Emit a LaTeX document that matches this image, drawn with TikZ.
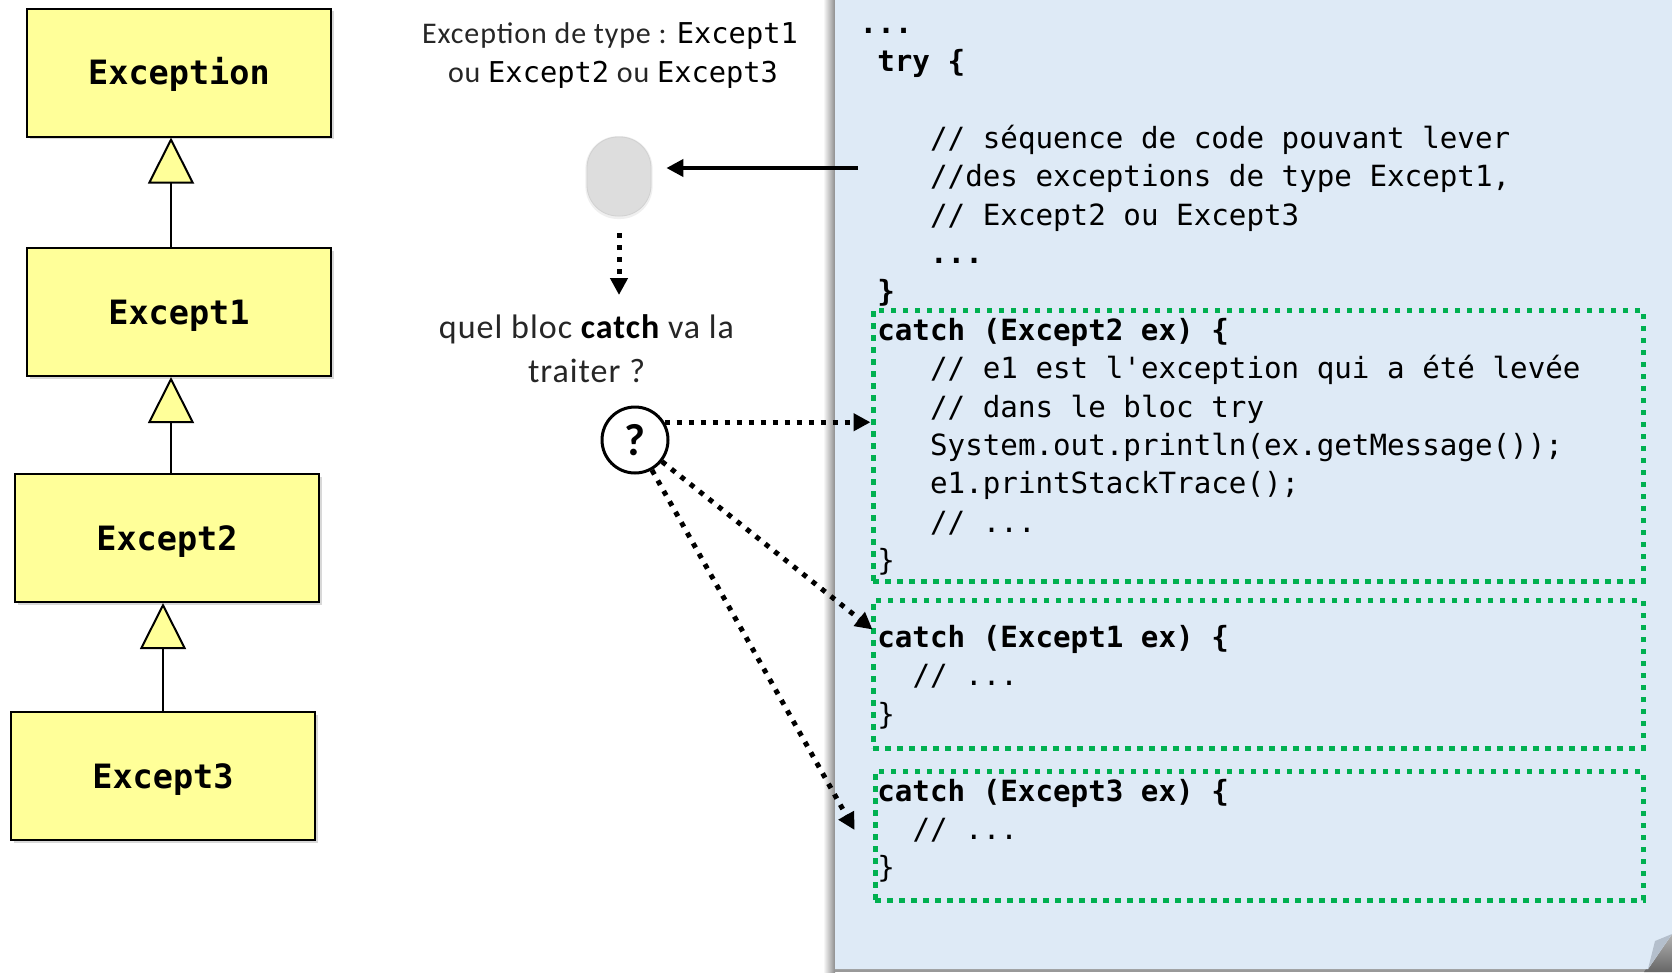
\documentclass[tikz,border=0pt]{standalone}
\usepackage{fontspec}
\setmainfont{Carlito}
\newfontfamily\codefont{DejaVu Sans Mono}
\usetikzlibrary{arrows.meta,shadows,calc}

\definecolor{boxyellow}{HTML}{FFFF99}
\definecolor{panelblue}{HTML}{DEEAF6}
\definecolor{catchgreen}{HTML}{00B050}
\definecolor{flapgrey}{HTML}{B4BFCC}
\definecolor{ovalgrey}{HTML}{DDDDDD}
\definecolor{textdark}{HTML}{262626}

\newcommand\codesize{\fontsize{29.2pt}{38.4pt}\selectfont}
\newcommand\titlemono{\color{black}\codefont\fontsize{28.7pt}{34pt}\selectfont}

\tikzset{
  classbox/.style={draw=black, line width=2pt, fill=boxyellow,
    minimum width=304pt, minimum height=128pt, inner sep=0pt,
    text height=24.5pt, text depth=0pt,
    font=\codefont\bfseries\fontsize{33.5pt}{40pt}\selectfont,
    drop shadow={shadow xshift=2.5pt, shadow yshift=-2.5pt, opacity=0.3}},
  inherit/.style={line width=2pt, -{Triangle[length=46pt,width=46pt,fill=boxyellow]}},
  codeline/.style={anchor=base west, inner sep=0pt, font=\codefont\codesize},
  codebold/.style={codeline, font=\codefont\codesize\bfseries},
  catchbox/.style={draw=catchgreen, line width=5pt, dash pattern=on 5.5pt off 6.5pt, inner sep=0pt},
  dotarrow/.style={line width=5pt, dash pattern=on 5pt off 7pt, -{Triangle[length=17pt,width=17pt]}},
  solidarrow/.style={line width=4pt, -{Triangle[length=17pt,width=17pt]}},
  caption/.style={anchor=base, inner sep=0pt, text=textdark}
}

\begin{document}
\begin{tikzpicture}[x=1pt,y=-1pt]
\useasboundingbox (0,0) rectangle (1672,972);
\fill[white] (0,0) rectangle (1672,972);

% ---------- code sheet on the right ----------
\shade[left color=white, right color=black!45] (823,0) rectangle (835,972);
\fill[black!40] (835,968) rectangle (1672,972);
\shade[top color=black!30, bottom color=black!60] (1646,969) -- (1672,934) -- (1672,972) -- (1644,972) -- cycle;
\fill[panelblue] (835,0) -- (1672,0) -- (1672,934) -- (1648,969) -- (835,969) -- cycle;
\fill[flapgrey] (1648,969) -- (1655,941) -- (1672,934) -- cycle;

\node[catchbox, minimum width=770pt, minimum height=271pt] (c1) at (1258,445.5) {};
\node[catchbox, minimum width=770pt, minimum height=148pt] (c2) at (1258,674) {};
\node[catchbox, minimum width=768pt, minimum height=129pt] (c3) at (1259,835.5) {};

\node[codebold] (l0)  at (859.5,33)    {...};
\node[codebold] (l1)  at (877.1,71.4)  {try \{};
\node[codeline] (l3)  at (929.9,148.2) {// séquence de code pouvant lever};
\node[codeline] (l4)  at (929.9,186.6) {//des exceptions de type Except1,};
\node[codeline] (l5)  at (929.9,225)   {// Except2 ou Except3};
\node[codebold] (l6)  at (929.9,263.4) {...};
\node[codebold] (l7)  at (877.1,301.8) {\}};
\node[codebold] (l8)  at (877.1,340.2) {catch (Except2 ex) \{};
\node[codeline] (l9)  at (929.9,378.6) {// e1 est l\textquotesingle exception qui a été levée};
\node[codeline] (l10) at (929.9,417)   {// dans le bloc try};
\node[codeline] (l11) at (929.9,455.4) {System.out.println(ex.getMessage());};
\node[codeline] (l12) at (929.9,493.8) {e1.printStackTrace();};
\node[codeline] (l13) at (929.9,532.2) {// ...};
\node[codeline] (l14) at (877.1,570.6) {\}};
\node[codebold] (l16) at (877.1,647.4) {catch (Except1 ex) \{};
\node[codeline] (l17) at (912.3,685.8) {// ...};
\node[codeline] (l18) at (877.1,724.2) {\}};
\node[codebold] (l20) at (877.1,801)   {catch (Except3 ex) \{};
\node[codeline] (l21) at (912.3,839.4) {// ...};
\node[codeline] (l22) at (877.1,877.8) {\}};

% ---------- class hierarchy ----------
\node[classbox] (exc) at (179,72.5) {Exception};
\node[classbox] (e1)  at (179,312)  {Except1};
\node[classbox] (e2)  at (167,538)  {Except2};
\node[classbox] (e3)  at (163,776)  {Except3};

\draw[inherit] ($(e1.north)+(-8,0)$) -- ($(exc.south)+(-8,0)$);
\draw[inherit] ($(e2.north)+(4,0)$)  -- ($(e1.south)+(-8,0)$);
\draw[inherit] (e3.north) -- ($(e2.south)+(-4,0)$);

% ---------- thrown exception and dispatch ----------
\node[caption, font=\addfontfeatures{LetterSpace=3}\fontsize{30pt}{34pt}\selectfont] (t1) at (610,43)
  {Exception de type : {\titlemono Except1}};
\node[caption, font=\addfontfeatures{LetterSpace=3}\fontsize{30pt}{34pt}\selectfont] (t2) at (613,82)
  {ou {\titlemono Except2} ou {\titlemono Except3}};

\node[draw=black!18, line width=0.8pt, fill=ovalgrey, rounded corners=31pt,
      minimum width=64pt, minimum height=79pt, inner sep=0pt,
      drop shadow={shadow xshift=0pt, shadow yshift=-1pt, shadow scale=1.05, opacity=0.12}]
      (oval) at (619,176.5) {};

\coordinate (trySrc) at (858,168);
\draw[solidarrow, shorten >=15pt] (trySrc) -- (trySrc -| oval.east);

\node[caption, font=\addfontfeatures{LetterSpace=3}\fontsize{34pt}{40pt}\selectfont] (ask1) at (586.5,338)
  {quel bloc {\color{black}\bfseries catch} va la};
\node[caption, font=\addfontfeatures{LetterSpace=3}\fontsize{34pt}{40pt}\selectfont] (ask2) at (586.5,382) {traiter ?};

\coordinate (askTop) at (619,295);
\draw[dotarrow, shorten <=17pt] (oval.south) -- (askTop);

\node[circle, draw, line width=3pt, minimum size=66pt, inner sep=0pt,
      font=\bfseries\fontsize{45pt}{46pt}\selectfont] (q) at (635,440) {?};

\coordinate (hit2) at ($(c2.north west)+(2,32)$);
\coordinate (hit3) at ($(c3.west)+(-18,-5.5)$);
\draw[dotarrow] (q.31) -- (q.31 -| c1.west);
\draw[dotarrow] (q) -- (hit2);
\draw[dotarrow] (q) -- (hit3);
\end{tikzpicture}
\end{document}
